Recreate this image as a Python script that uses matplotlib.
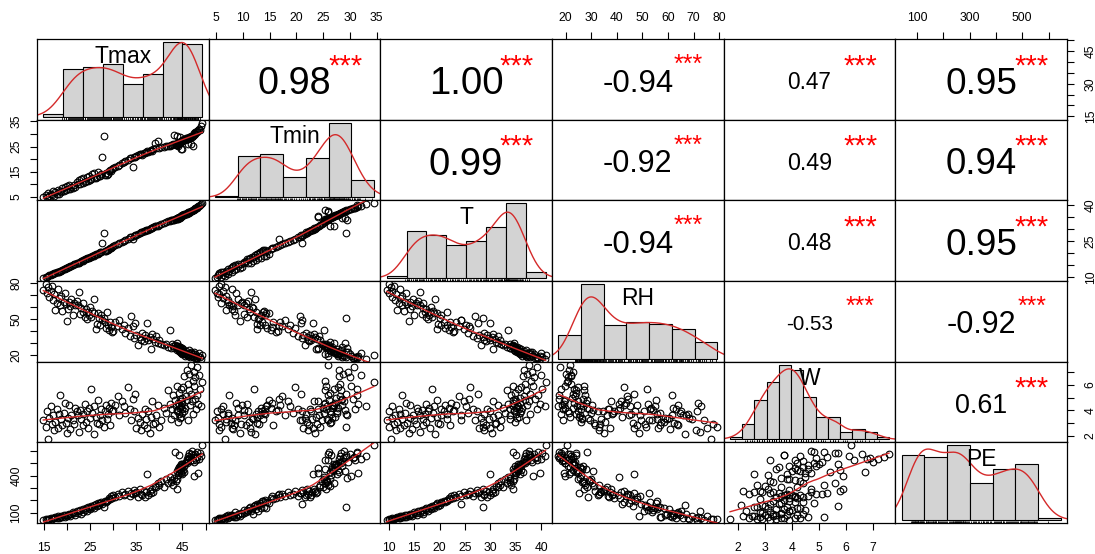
import matplotlib
matplotlib.use('Agg')
import matplotlib.pyplot as plt
import numpy as np
from matplotlib.font_manager import FontProperties

plt.rcParams['font.family'] = ['Liberation Sans', 'DejaVu Sans']

names = ['Tmax', 'Tmin', 'T', 'RH', 'W', 'PE']

tmax = [14.8,
        15.3, 15.6, 15.8, 16.1, 16.4, 16.6, 16.9, 17.1, 17.4, 17.7, 17.9, 18.2, 18.4, 18.7, 18.9, 19.2, 19.4, 19.7, 19.9,
        20.1, 20.4, 20.6, 20.9, 21.2, 21.5, 21.7, 22.0, 22.3, 22.5, 22.8, 23.0, 23.3, 23.5, 23.8, 24.0, 24.2, 24.5, 24.7, 24.9,
        25.2, 25.4, 25.7, 25.9, 26.2, 26.4, 26.7, 26.9, 27.1, 27.4, 27.6, 27.9, 28.1, 28.3, 28.6, 28.8, 29.0, 29.3, 29.5, 29.7, 29.9,
        30.4, 30.9, 31.3, 31.8, 32.2, 32.6, 33.1, 33.5, 33.9, 34.2, 34.5, 34.7, 34.9,
        35.3, 35.7, 36.0, 36.3, 36.6, 36.9, 37.1, 37.4, 37.6, 37.9, 38.1, 38.4, 38.7, 39.0, 39.3, 39.6, 39.9,
        40.4, 40.9, 41.4, 41.8, 42.2, 42.5, 42.8, 43.0, 43.2, 43.4, 43.6, 43.7, 43.8, 43.9, 44.0, 44.1, 44.2, 44.3, 44.3, 44.4,
        44.5, 44.5, 44.6, 44.6, 44.7, 44.7, 44.8, 44.8, 44.9, 44.9,
        45.1, 45.3, 45.4, 45.6, 45.7, 45.9, 46.0, 46.1, 46.3, 46.4, 46.5, 46.7, 46.8, 46.9, 47.0, 47.2, 47.3, 47.4, 47.5, 47.7,
        47.8, 47.9, 48.1, 48.2, 48.4, 48.6, 48.8, 49.0, 49.3]

tmin = [4.8,
        5.9, 5.1, 6.6, 5.3, 6.3, 5.6, 7.2, 5.5, 6.9, 6.0, 7.9, 6.2, 7.5, 6.8, 8.4, 7.3, 8.8, 7.7, 9.4, 8.0, 9.9, 8.2, 9.1,
        8.5, 9.7, 9.0,
        10.9, 10.2, 11.5, 10.3, 11.9, 10.6, 12.4, 10.8, 11.2, 12.9, 11.3, 13.4, 11.7, 12.0, 13.9, 12.3, 14.4, 12.6, 12.7,
        14.8, 13.1, 13.2, 14.2, 21.0, 29.2, 13.6, 14.6, 13.8, 14.1,
        15.2, 15.6, 15.4, 16.1, 16.5, 16.9, 17.4, 17.8, 18.4, 18.9, 19.3, 19.8,
        20.3, 20.6, 16.8, 21.0, 20.8, 21.3, 21.6, 21.9, 22.1, 21.8, 22.4, 22.6, 22.9, 23.1, 22.8, 23.4, 23.6, 23.3, 23.9, 26.3,
        24.3, 27.1, 24.5, 24.7, 24.9,
        25.1, 25.4, 25.2, 25.7, 25.5, 25.9, 29.5, 26.1, 25.8, 26.3, 25.6, 29.0, 26.5, 25.4, 26.2, 26.7, 26.4, 28.6, 26.8, 26.6,
        27.0, 24.1, 27.2, 26.9, 27.4, 24.0, 27.6, 27.3, 27.8, 27.5, 28.0, 27.7, 28.2, 27.9, 28.4, 28.1, 25.9, 28.3, 28.8, 28.5,
        26.0, 29.3, 28.9, 25.3, 29.2, 29.7,
        30.2, 30.6, 30.1, 30.9, 31.3, 30.7, 31.6, 32.0, 31.4, 33.1, 34.5]

t_mean = [9.6,
          10.1, 10.1, 10.4, 10.7, 10.7, 11.1, 11.2, 11.5, 11.6, 12.0, 12.3, 12.2, 12.7, 12.7, 13.1, 13.2, 13.5, 13.6, 13.9,
          14.2, 14.1, 14.5, 14.8, 14.9,
          15.3, 15.5, 15.8, 16.1, 16.1, 16.5, 16.8, 16.8, 17.2, 17.4, 17.4, 17.8, 18.1, 18.0, 18.4, 18.5, 18.8, 19.1, 19.0, 19.5,
          19.7, 19.6, 20.1, 20.3, 20.3,
          24.3, 28.6,
          20.9, 21.0, 21.4, 21.4, 21.8, 22.1, 22.2, 22.6, 22.9, 23.3, 23.8, 24.2, 24.8, 25.2, 25.6, 26.1, 26.6, 26.9,
          25.9,
          27.4, 27.5, 27.8, 28.1, 28.5, 28.7, 28.8, 29.2, 29.4, 29.7, 29.9, 29.9, 30.3, 30.5, 30.5, 31.0, 31.2, 31.5, 31.5, 31.9,
          32.2, 32.6, 32.9, 33.3, 33.4, 33.8, 33.8, 34.1, 33.9, 34.4, 34.4, 34.7, 34.4, 34.6, 34.9, 34.4, 34.9, 35.2, 35.1, 34.8,
          35.3, 35.2, 35.5, 35.1, 35.6, 35.5, 35.8, 35.6, 35.9, 35.8,
          36.1, 36.1, 36.4, 36.3, 36.6, 36.6, 36.9, 36.8, 37.1, 37.0, 37.3, 37.3, 37.6, 37.8, 37.6, 38.0, 37.9, 38.2, 38.5, 38.8,
          38.6, 39.1, 39.4, 39.1, 39.7, 39.9, 40.2, 40.7, 40.9]

rh = [74.2, 79.3, 71.5, 76.8, 68.4, 73.1, 77.6, 65.9, 70.8, 57.4, 63.2, 75.1, 67.7, 61.5, 69.3, 56.8, 64.6, 71.9, 62.3, 48.7,
      58.7, 64.1, 60.9, 67.2, 53.9, 63.5, 61.8, 65.0,
      61.7, 72.4, 54.2, 59.6, 63.8, 55.8, 52.1, 58.3, 50.6, 56.1, 53.5, 60.4, 51.9, 57.0, 66.8, 54.8, 42.2, 46.2, 55.3, 50.9,
      44.8, 53.1, 49.5, 51.4, 47.3, 42.9, 55.9, 45.6, 41.2, 48.1, 43.7, 39.1, 40.6,
      47.8, 44.1, 49.2, 41.6, 45.3, 38.7, 43.0, 36.4, 52.6, 44.6, 34.8, 46.7, 37.3, 28.9, 35.6, 33.1, 38.2, 31.7, 36.9, 34.0,
      46.9, 32.5, 35.2, 25.3, 37.8, 33.6, 31.2, 36.1, 30.3, 32.9,
      29.5, 28.3, 29.8, 27.1, 40.8, 26.4, 29.1, 27.7, 25.8, 28.5, 26.9, 24.7, 27.4, 30.6, 26.1, 28.0, 23.9, 25.6, 24.2, 27.0,
      22.8, 26.6, 23.5, 25.0, 21.9, 24.4, 22.6, 26.2, 21.4, 23.2, 24.9, 20.8, 22.3, 19.6, 23.7, 21.2, 19.9, 22.0, 19.1, 24.1,
      20.2, 18.7, 21.6, 22.9, 19.4, 20.9, 18.2, 23.0, 19.8, 17.6, 21.1, 18.9, 17.4, 17.9, 19.3, 22.1, 18.4, 17.2, 20.6]

wind = [3.2, 2.7, 3.9, 1.7, 3.4, 4.3, 2.9, 3.6, 2.4, 3.1, 4.1, 2.6, 3.7, 5.2, 3.3, 2.8, 3.8, 4.6, 3.0, 2.2,
        3.4, 4.4, 2.5, 3.6, 3.2, 2.9, 4.2, 3.9,
        3.6, 2.3, 4.0, 3.3, 2.8, 3.7, 4.5, 3.1, 3.9, 2.6, 4.2, 3.4, 5.7, 3.8, 2.1, 4.3, 3.5, 3.0, 4.8, 2.9,
        3.6, 4.1, 3.2, 2.7, 3.9, 4.4, 3.3,
        3.7, 4.2, 2.8, 4.6, 3.9, 4.0, 4.4, 5.1, 3.6, 4.7, 4.3, 3.8, 5.8, 4.1, 3.2, 4.9, 3.9, 5.3, 2.6, 3.4,
        3.1, 2.4, 3.7, 2.8, 4.1, 3.3, 2.6, 3.9, 2.2, 3.5, 4.7, 2.9, 3.0, 3.6, 4.4, 2.7, 3.2,
        4.2, 3.8, 5.6, 4.5, 3.3, 4.1, 5.2, 3.6, 4.8, 4.3, 3.9, 5.9, 4.0, 3.1, 4.6, 5.4, 4.4, 3.7, 4.9, 4.2,
        3.4, 5.7, 4.7, 3.5, 4.3, 5.0, 4.1, 3.8,
        4.6, 5.8, 3.9, 6.7, 4.2, 5.1, 7.2, 4.8, 6.1, 3.2, 5.6, 6.9, 4.4, 7.6, 5.3, 4.7, 6.3, 3.7, 7.0, 5.9,
        4.9, 6.6, 4.1, 5.2, 7.4, 4.5, 6.8, 5.7, 4.3, 6.2]

pe = [42, 48, 45, 53, 47, 58, 51, 62, 55, 66, 60, 71, 57, 68, 74, 64, 79, 70, 85, 76, 82, 92, 73, 88, 105, 95, 84, 112,
      98, 118, 126, 91, 109, 134, 121, 142, 115, 150, 137, 129, 158, 145, 166, 139, 172, 153, 181, 162, 176, 189,
      168, 146, 194, 185, 199,
      207, 223, 212, 238, 219, 245, 228, 256, 233, 268, 241, 251, 274, 236, 262, 249, 283, 258, 270, 226, 289, 253,
      244, 277, 231, 265, 412, 248, 280, 259, 296, 272,
      318, 305, 342, 327, 356, 312, 371, 338, 389, 349, 364, 322, 381, 589, 358, 376,
      293, 436, 405, 451, 428, 467, 569, 482, 444, 458, 491, 426, 473, 439, 496, 462, 415, 487, 448, 477, 433, 499,
      512, 538, 503, 561, 527, 584, 546, 519, 572, 555, 597, 531, 566, 508, 395, 543, 577, 524, 593, 551, 419, 535,
      582, 558, 646]

# printed correlations (upper panels), row by row
cor_tmax = [0.98, 1.00, -0.94, 0.47, 0.95]
cor_tmin = [0.99, -0.92, 0.49, 0.94]
cor_t = [-0.94, 0.48, 0.95]
cor_rh = [-0.53, -0.92]
cor_w = [0.61]
signif = '***'

# histogram bin widths of the diagonal panels
hist_step = [5, 5, 5, 10, 0.5, 100]

# axis ticks and which of them carry labels (x side / y side)
tmax_ticks = [15, 20, 25, 30, 35, 40, 45, 50]
tmin_ticks = [5, 10, 15, 20, 25, 30, 35]
t_ticks = [10, 15, 20, 25, 30, 35, 40]
rh_ticks = [20, 30, 40, 50, 60, 70, 80]
w_ticks = [2, 3, 4, 5, 6, 7]
pe_ticks = [100, 200, 300, 400, 500, 600]

tmax_xlab, tmax_ylab = [15, 25, 35, 45], [15, 30, 45]
tmin_xlab, tmin_ylab = [5, 10, 15, 20, 25, 30, 35], [5, 15, 25, 35]
t_xlab, t_ylab = [10, 15, 20, 25, 30, 35, 40], [10, 25, 40]
rh_xlab, rh_ylab = [20, 30, 40, 50, 60, 70, 80], [20, 50, 80]
w_xlab, w_ylab = [2, 3, 4, 5, 6, 7], [2, 4, 6]
pe_xlab, pe_ylab = [100, 300, 500], [100, 400]


def lowess(x, y, f=2 / 3, iters=3):
    order = np.argsort(x, kind='mergesort')
    xs = np.asarray(x, float)[order]
    ys = np.asarray(y, float)[order]
    n = len(xs)
    r = int(np.ceil(f * n))
    fit = np.zeros(n)
    robust = np.ones(n)
    for it in range(iters + 1):
        for i in range(n):
            d = np.abs(xs - xs[i])
            h = max(np.sort(d)[r - 1], 1e-9)
            u = np.clip(d / h, 0, 1)
            wts = (1 - u ** 3) ** 3 * robust
            sw = wts.sum()
            xm = (wts * xs).sum() / sw
            ym = (wts * ys).sum() / sw
            sxx = (wts * (xs - xm) ** 2).sum()
            slope = (wts * (xs - xm) * (ys - ym)).sum() / sxx if sxx > 1e-12 else 0.0
            fit[i] = ym + slope * (xs[i] - xm)
        if it == iters:
            break
        res = ys - fit
        s = np.median(np.abs(res))
        if s == 0:
            break
        u = np.clip(res / (6 * s), -1, 1)
        robust = (1 - u ** 2) ** 2
    return xs, fit


def kde(x):
    x = np.asarray(x, float)
    n = len(x)
    iqr = np.subtract(*np.percentile(x, [75, 25]))
    bw = 0.9 * min(x.std(ddof=1), iqr / 1.34) * n ** -0.2
    grid = np.linspace(x.min() - 3 * bw, x.max() + 3 * bw, 512)
    z = (grid[:, None] - x[None, :]) / bw
    dens = np.exp(-0.5 * z ** 2).sum(axis=1) / (n * bw * np.sqrt(2 * np.pi))
    return grid, dens


data = [np.array(v, float) for v in (tmax, tmin, t_mean, rh, wind, pe)]
cors = [cor_tmax, cor_tmin, cor_t, cor_rh, cor_w]
ticks = [tmax_ticks, tmin_ticks, t_ticks, rh_ticks, w_ticks, pe_ticks]
xlabs = [tmax_xlab, tmin_xlab, t_xlab, rh_xlab, w_xlab, pe_xlab]
ylabs = [tmax_ylab, tmin_ylab, t_ylab, rh_ylab, w_ylab, pe_ylab]

lims = []
for v in data:
    lo, hi = v.min(), v.max()
    lims.append((lo - 0.04 * (hi - lo), hi + 0.04 * (hi - lo)))

FW, FH = 1095, 554
X0, Y0 = 37, 39
PW = (1067 - 37) / 6
PH = (523 - 39) / 6
RED = '#d42a2a'
TICK_FS = 8.7

fig = plt.figure(figsize=(FW / 100, FH / 100), dpi=100)
fig.patch.set_facecolor('white')
renderer = fig.canvas.get_renderer()


def text_em_width(txt):
    fp = FontProperties(family=['Liberation Sans'], size=10)
    w, h, d = renderer.get_text_width_height_descent(txt, fp, ismath=False)
    return w / (10 * 100 / 72)


def tick_labels(tk, lab):
    return [str(v) if v in lab else '' for v in tk]


for i in range(6):
    for j in range(6):
        left = (X0 + j * PW) / FW
        bottom = 1 - (Y0 + (i + 1) * PH) / FH
        ax = fig.add_axes([left, bottom, PW / FW, PH / FH])
        for sp in ax.spines.values():
            sp.set_linewidth(0.9)
            sp.set_color('black')
        ax.set_xticks([])
        ax.set_yticks([])

        if i == j:
            x = data[i]
            step = hist_step[i]
            b0 = np.floor(x.min() / step) * step
            b1 = np.ceil(x.max() / step) * step
            edges = np.arange(b0, b1 + step / 2, step)
            counts, _ = np.histogram(x, edges)
            dens = counts / (len(x) * step)
            span = edges[-1] - edges[0]
            ax.set_xlim(edges[0] - 0.04 * span, edges[-1] + 0.04 * span)
            top = dens.max()
            ax.set_ylim(-0.04 * top, 1.04 * top)
            ax.bar(edges[:-1], dens, width=step, align='edge', color='#d3d3d3',
                   edgecolor='black', linewidth=0.8)
            gx, gy = kde(x)
            ax.plot(gx, gy, color=RED, lw=1.0)
            ax.vlines(x, -0.04 * top, -0.04 * top + 0.03 * 1.08 * top, color='black', lw=0.6)
            lab_px = 16.5 / 0.72
            ax.text(0.5, 0.81 - 0.358 * lab_px / PH, names[i], ha='center', va='baseline',
                    fontsize=16.5, transform=ax.transAxes)
        elif i > j:
            x, y = data[j], data[i]
            ax.set_xlim(lims[j])
            ax.set_ylim(lims[i])
            ax.plot(x, y, 'o', mfc='none', mec='black', ms=4.8, mew=0.8)
            lx, ly = lowess(x, y)
            ax.plot(lx, ly, color=RED, lw=1.0)
        else:
            r = cors[i][j - i - 1]
            txt = f'{r:.2f}'
            base_px = 0.432 * PW / text_em_width(txt)
            base_pt = base_px * 0.72
            num_pt = base_pt * (abs(r) + 0.3) / 1.3
            num_px = num_pt / 0.72
            star_pt = base_pt * 0.76
            star_px = star_pt / 0.72
            ax.text(0.5, 0.485 - 0.358 * num_px / PH, txt, ha='center', va='baseline',
                    fontsize=num_pt, transform=ax.transAxes)
            ax.text(0.795, 0.77 - 0.575 * star_px / PH, signif, ha='center', va='baseline',
                    fontsize=star_pt, color='red', transform=ax.transAxes)
            ax.set_xlim(lims[j])
            ax.set_ylim(lims[i])

        # outer axes, alternating like pairs()
        if i == 0 and j % 2 == 1:
            ax.set_xlim(lims[j])
            tk = [v for v in ticks[j] if lims[j][0] <= v <= lims[j][1]]
            ax.set_xticks(tk)
            ax.set_xticklabels(tick_labels(tk, xlabs[j]))
            ax.tick_params(axis='x', top=True, bottom=False, labeltop=True, labelbottom=False,
                           direction='out', length=5.3, width=0.8, pad=5.3, labelsize=TICK_FS)
        if i == 5 and j % 2 == 0:
            ax.set_xlim(lims[j])
            tk = [v for v in ticks[j] if lims[j][0] <= v <= lims[j][1]]
            ax.set_xticks(tk)
            ax.set_xticklabels(tick_labels(tk, xlabs[j]))
            ax.tick_params(axis='x', top=False, bottom=True, labeltop=False, labelbottom=True,
                           direction='out', length=5.3, width=0.8, pad=8.5, labelsize=TICK_FS)
        if j == 0 and i % 2 == 1:
            ax.set_ylim(lims[i])
            tk = [v for v in ticks[i] if lims[i][0] <= v <= lims[i][1]]
            ax.set_yticks(tk)
            ax.set_yticklabels(tick_labels(tk, ylabs[i]), rotation=90, va='center', ha='right')
            ax.tick_params(axis='y', left=True, right=False, labelleft=True, labelright=False,
                           direction='out', length=5.3, width=0.8, pad=5.3, labelsize=TICK_FS)
        if j == 5 and i % 2 == 0:
            ax.set_ylim(lims[i])
            tk = [v for v in ticks[i] if lims[i][0] <= v <= lims[i][1]]
            ax.set_yticks(tk)
            ax.set_yticklabels(tick_labels(tk, ylabs[i]), rotation=90, va='center', ha='left')
            ax.tick_params(axis='y', left=False, right=True, labelleft=False, labelright=True,
                           direction='out', length=5.3, width=0.8, pad=7.5, labelsize=TICK_FS)

fig.savefig('out.png', dpi=100, facecolor='white')
